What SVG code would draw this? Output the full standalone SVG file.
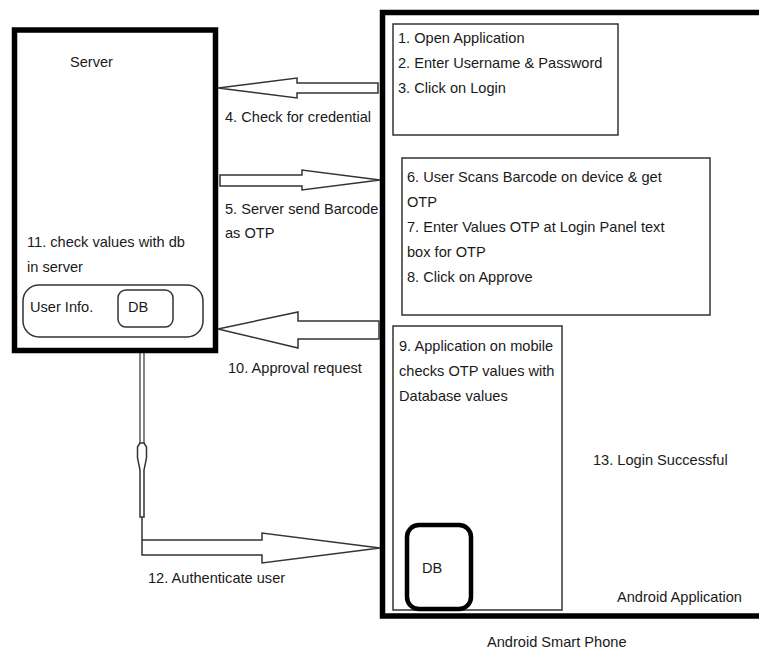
<svg xmlns="http://www.w3.org/2000/svg" width="759" height="650" viewBox="0 0 759 650">
<style>
text{font-family:"Liberation Sans",Arial,sans-serif;font-size:14.6px;fill:#1a1a1a}
.thick{fill:#fff;stroke:#000;stroke-width:5.5}
.thin{fill:#fff;stroke:#333;stroke-width:1.5}
.arrow{fill:#fff;stroke:#333;stroke-width:1.5;stroke-linejoin:miter}
</style>
<rect width="759" height="650" fill="#fff"/>
<g id="phone">
<rect class="thick" x="382.5" y="12.5" width="400" height="603.5"/>
<text x="617" y="602">Android Application</text>
<text x="593" y="465">13. Login Successful</text>
</g>
<text x="487" y="647">Android Smart Phone</text>
<g id="server">
<rect class="thick" x="14.5" y="30" width="201" height="320.5"/>
<text x="70" y="67">Server</text>
<text x="27" y="247">11. check values with db</text>
<text x="27" y="272">in server</text>
</g>
<g id="userinfo">
<rect x="23" y="285" width="180" height="52" rx="16" ry="16" fill="#fff" stroke="#333" stroke-width="1.5"/>
<text x="30" y="312">User Info.</text>
</g>
<g id="serverdb">
<rect x="118" y="290" width="55" height="37" rx="8" ry="8" fill="#fff" stroke="#333" stroke-width="1.5"/>
<text x="128" y="312">DB</text>
</g>
<g id="step1-3">
<rect class="thin" x="393" y="24" width="225" height="111"/>
<text x="398" y="43">1. Open Application</text>
<text x="398" y="68">2. Enter Username &amp; Password</text>
<text x="398" y="93">3. Click on Login</text>
</g>
<g id="step6-8">
<rect class="thin" x="402" y="158" width="308" height="157"/>
<text x="407" y="182">6. User Scans Barcode on device &amp; get</text>
<text x="407" y="207">OTP</text>
<text x="407" y="232">7. Enter Values OTP at Login Panel text</text>
<text x="407" y="257">box for OTP</text>
<text x="407" y="282">8. Click on Approve</text>
</g>
<g id="step9">
<rect class="thin" x="393" y="326" width="169" height="284"/>
<text x="399" y="351">9. Application on mobile</text>
<text x="399" y="376">checks OTP values with</text>
<text x="399" y="401">Database values</text>
</g>
<g id="phonedb">
<rect x="407" y="525" width="64" height="84" rx="12" ry="12" fill="#fff" stroke="#000" stroke-width="4.5"/>
<text x="422" y="573">DB</text>
</g>
<g id="connectors">
<polygon class="arrow" points="218,88 297,78 297,83 378,83 378,93 297,93 297,98"/>
<polygon class="arrow" points="220,175 302,175 302,170 380,180 302,190 302,186 220,186"/>
<polygon class="arrow" points="218,329 298,312 298,321 379,321 379,339 298,339 298,348"/>
<path d="M140,353 V443 M144,353 V443" fill="none" stroke="#333" stroke-width="1.2"/>
<polygon class="arrow" points="140,443 137.5,447 137.5,458 140,470 140,517 144,517 144,470 146.5,458 146.5,447 144,443"/>
<path d="M142,517 V540" fill="none" stroke="#333" stroke-width="1.5"/>
<polygon class="arrow" points="142,540 262,540 262,533 380,548 262,563 262,555 142,555"/>
<text x="225" y="122">4. Check for credential</text>
<text x="225" y="214">5. Server send Barcode</text>
<text x="225" y="238">as OTP</text>
<text x="228" y="373">10. Approval request</text>
<text x="148" y="583">12. Authenticate user</text>
</g>
</svg>
